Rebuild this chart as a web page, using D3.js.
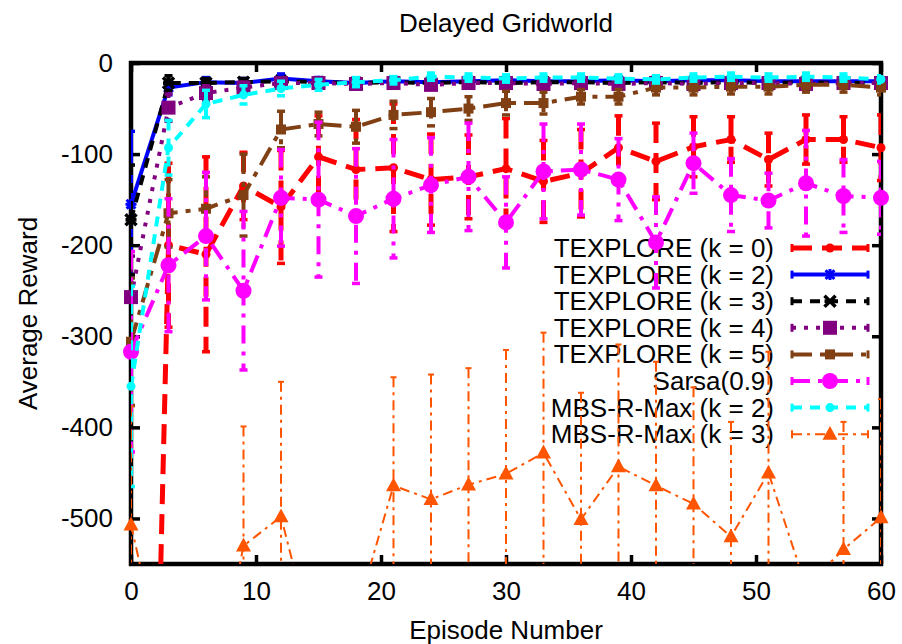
<!DOCTYPE html>
<html>
<head>
<meta charset="utf-8">
<script src="https://cdn.jsdelivr.net/npm/d3@7"></script>
<style>
  body { margin: 0; background: #fff; }
  text { font-family: "Liberation Sans", Arial, Helvetica, sans-serif; }
</style>
</head>
<body>
<svg id="chart" width="902" height="644"></svg>
<script>
// Episodes at which average reward was measured
const episodes = [0, 3, 6, 9, 12, 15, 18, 21, 24, 27, 30, 33, 36, 39, 42, 45, 48, 51, 54, 57, 60];

// Average reward per algorithm, with error-bar half widths
const texplore0    = [-1900, -200, -210, -135, -158, -103, -117, -115, -128, -125, -116, -130, -121, -93, -108, -92, -84, -106, -84, -84, -93];
const texplore0Err = [300, 90, 107, 37, 62, 45, 55, 70, 50, 46, 55, 45, 48, 35, 42, 33, 25, 29, 27, 25, 36];

const texplore2    = [-155, -27, -21, -22, -17, -20, -22, -20, -21, -20, -19, -20, -20, -19, -20, -19, -19, -20, -20, -20, -20];
const texplore2Err = [80, 8, 5, 5, 5, 4, 4, 4, 4, 4, 4, 4, 4, 4, 4, 4, 4, 4, 4, 4, 4];

const texplore3    = [-172, -22, -22, -21, -20, -21, -22, -21, -22, -21, -22, -21, -21, -22, -21, -22, -21, -22, -21, -22, -22];
const texplore3Err = [60, 8, 5, 4, 4, 4, 4, 4, 4, 4, 4, 4, 4, 4, 4, 4, 4, 4, 4, 4, 4];

const texplore4    = [-257, -49, -33, -27, -22, -22, -23, -22, -24, -22, -22, -23, -22, -23, -22, -23, -22, -22, -23, -22, -22];
const texplore4Err = [45, 15, 8, 6, 5, 5, 5, 5, 5, 5, 5, 5, 5, 5, 5, 5, 5, 5, 5, 5, 5];

const texplore5    = [-306, -165, -160, -145, -73, -67, -70, -57, -54, -50, -44, -44, -37, -37, -27, -27, -26, -26, -24, -24, -27];
const texplore5Err = [70, 37, 35, 45, 20, 13, 18, 15, 15, 13, 13, 12, 8, 8, 8, 8, 8, 8, 8, 8, 8];

const sarsa    = [-317, -222, -190, -250, -148, -150, -168, -149, -134, -125, -175, -119, -117, -128, -197, -110, -145, -151, -132, -146, -148];
const sarsaErr = [110, 73, 70, 87, 53, 85, 74, 65, 52, 59, 50, 52, 50, 45, 50, 33, 40, 30, 58, 40, 40];

const mbs2    = [-355, -93, -45, -35, -28, -24, -21, -19, -15, -16, -17, -16, -16, -17, -18, -16, -15, -16, -15, -16, -18];
const mbs2Err = [110, 30, 15, 10, 8, 6, 5, 4, 4, 4, 4, 4, 4, 4, 4, 4, 4, 4, 4, 4, 4];

const mbs3    = [-507, -690, -740, -530, -498, -660, -606, -464, -479, -463, -451, -428, -501, -443, -464, -484, -520, -450, -575, -534, -499];
const mbs3Err = [130, 125, 120, 131, 148, 100, 50, 119, 137, 128, 136, 132, 139, 134, 136, 128, 126, 133, 20, 140, 130];

const seriesNames = ["TEXPLORE (k = 0)", "TEXPLORE (k = 2)", "TEXPLORE (k = 3)", "TEXPLORE (k = 4)",
                     "TEXPLORE (k = 5)", "Sarsa(0.9)", "MBS-R-Max (k = 2)", "MBS-R-Max (k = 3)"];

const xTicks = [0, 10, 20, 30, 40, 50, 60];
const yTicks = [0, -100, -200, -300, -400, -500];

const chartTitle = "Delayed Gridworld";
const xLabel = "Episode Number";
const yLabel = "Average Reward";

// Drawing styles for each series
const styles = [
  { color: "#ff0000", width: 5,   dash: "20,10",       marker: "dot",      size: 4.5, cap: 4 },
  { color: "#0000ff", width: 4,   dash: null,          marker: "star",     size: 5.5, cap: 4 },
  { color: "#000000", width: 4,   dash: "10,8",        marker: "cross",    size: 5.5, cap: 4 },
  { color: "#800080", width: 4,   dash: "4,8",         marker: "square",   size: 7,   cap: 4 },
  { color: "#804014", width: 4,   dash: "20,8,5,8",    marker: "square",   size: 5,   cap: 4 },
  { color: "#ff00ff", width: 4,   dash: "18,8,4,8",    marker: "circle",   size: 8,   cap: 4 },
  { color: "#00ffff", width: 4,   dash: "10,8",        marker: "dot",      size: 4.5, cap: 4 },
  { color: "#ff5500", width: 2,   dash: "10,5,3,5",    marker: "triangle", size: 7.5, cap: 3 }
];

const seriesData = [
  [texplore0, texplore0Err], [texplore2, texplore2Err], [texplore3, texplore3Err],
  [texplore4, texplore4Err], [texplore5, texplore5Err], [sarsa, sarsaErr],
  [mbs2, mbs2Err], [mbs3, mbs3Err]
];

const svg = d3.select("#chart");
const FONT = 26;
const plainNumber = d => String(d);   // ASCII hyphen for negatives

const x = d3.scaleLinear().domain([0, 60]).range([131, 881]);
const y = d3.scaleLinear().domain([-550, 0]).range([564, 63]);

svg.append("rect").attr("width", 902).attr("height", 644).attr("fill", "#fff");

svg.append("defs").append("clipPath").attr("id", "plotClip")
  .append("rect")
  .attr("x", x(0)).attr("y", y(0))
  .attr("width", x(60) - x(0)).attr("height", y(-550) - y(0));

// Axes with inward ticks on all four sides
function styleAxis(g) {
  g.select(".domain").remove();
  g.selectAll(".tick line").attr("stroke", "#000").attr("stroke-width", 3.5);
  g.selectAll(".tick text").attr("fill", "#000").attr("font-size", FONT)
    .attr("font-family", "'Liberation Sans', Arial, sans-serif");
}
const TICK = 9;
svg.append("g").attr("transform", `translate(0,${y(-550)})`)
  .call(d3.axisBottom(x).tickValues(xTicks).tickSizeInner(-TICK).tickSizeOuter(0).tickPadding(18).tickFormat(plainNumber))
  .call(styleAxis);
svg.append("g").attr("transform", `translate(${x(0)},0)`)
  .call(d3.axisLeft(y).tickValues(yTicks).tickSizeInner(-TICK).tickSizeOuter(0).tickPadding(18).tickFormat(plainNumber))
  .call(styleAxis);
svg.append("g").attr("transform", `translate(0,${y(0)})`)
  .call(d3.axisTop(x).tickValues(xTicks).tickSizeInner(-TICK).tickSizeOuter(0).tickFormat(""))
  .call(styleAxis);
svg.append("g").attr("transform", `translate(${x(60)},0)`)
  .call(d3.axisRight(y).tickValues(yTicks).tickSizeInner(-TICK).tickSizeOuter(0).tickFormat(""))
  .call(styleAxis);

// Plot border
svg.append("rect")
  .attr("x", x(0)).attr("y", y(0))
  .attr("width", x(60) - x(0)).attr("height", y(-550) - y(0))
  .attr("fill", "none").attr("stroke", "#000").attr("stroke-width", 4.5);

// Titles
svg.append("text").attr("x", (x(0) + x(60)) / 2).attr("y", 32)
  .attr("text-anchor", "middle").attr("font-size", FONT).text(chartTitle);
svg.append("text").attr("x", (x(0) + x(60)) / 2).attr("y", 639)
  .attr("text-anchor", "middle").attr("font-size", FONT).text(xLabel);
svg.append("text")
  .attr("transform", `translate(37,${(y(0) + y(-550)) / 2}) rotate(-90)`)
  .attr("text-anchor", "middle").attr("font-size", FONT).text(yLabel);

function drawMarker(g, cx, cy, st) {
  const s = st.size;
  if (st.marker === "dot" || st.marker === "circle") {
    g.append("circle").attr("cx", cx).attr("cy", cy).attr("r", s).attr("fill", st.color);
  } else if (st.marker === "square") {
    g.append("rect").attr("x", cx - s).attr("y", cy - s).attr("width", 2 * s).attr("height", 2 * s).attr("fill", st.color);
  } else if (st.marker === "triangle") {
    const p = d3.path();
    p.moveTo(cx, cy - s * 1.1); p.lineTo(cx + s, cy + s * 0.75); p.lineTo(cx - s, cy + s * 0.75); p.closePath();
    g.append("path").attr("d", p.toString()).attr("fill", st.color);
  } else if (st.marker === "star") {
    const d = s * 0.8;
    g.append("path")
      .attr("d", `M${cx - s},${cy}H${cx + s}M${cx},${cy - s}V${cy + s}M${cx - d},${cy - d}L${cx + d},${cy + d}M${cx - d},${cy + d}L${cx + d},${cy - d}`)
      .attr("stroke", st.color).attr("stroke-width", 3).attr("fill", "none");
  } else if (st.marker === "cross") {
    g.append("path")
      .attr("d", `M${cx - s},${cy - s}L${cx + s},${cy + s}M${cx - s},${cy + s}L${cx + s},${cy - s}M${cx - s},${cy}H${cx + s}`)
      .attr("stroke", st.color).attr("stroke-width", 3.5).attr("fill", "none");
  }
}

// Legend row geometry
const legendTextRight = 774;
const legendLineX0 = 792, legendLineX1 = 868;
const legendRow0 = 248, legendStep = 26.6;

seriesData.forEach(([vals, errs], si) => {
  const st = styles[si];

  // key entry
  const ly = legendRow0 + si * legendStep;
  const kg = svg.append("g");
  kg.append("text").attr("x", legendTextRight).attr("y", ly + 9)
    .attr("text-anchor", "end").attr("font-size", FONT).attr("fill", "#000").text(seriesNames[si]);
  kg.append("line").attr("x1", legendLineX0).attr("x2", legendLineX1).attr("y1", ly).attr("y2", ly)
    .attr("stroke", st.color).attr("stroke-width", st.width).attr("stroke-dasharray", st.dash);
  [legendLineX0, legendLineX1].forEach(ex => {
    kg.append("line").attr("x1", ex).attr("x2", ex).attr("y1", ly - 4).attr("y2", ly + 4)
      .attr("stroke", st.color).attr("stroke-width", Math.min(st.width, 3));
  });
  drawMarker(kg, (legendLineX0 + legendLineX1) / 2, ly, st);

  // data: line and error bars clipped to the plot area
  const pts = episodes.map((e, i) => ({ e, v: vals[i], err: errs[i] }));
  const cg = svg.append("g").attr("clip-path", "url(#plotClip)");
  pts.forEach(p => {
    const yTop = y(p.v + p.err), yBot = y(p.v - p.err), cx = x(p.e);
    cg.append("line").attr("x1", cx).attr("x2", cx).attr("y1", yTop).attr("y2", yBot)
      .attr("stroke", st.color).attr("stroke-width", st.width).attr("stroke-dasharray", st.dash);
    [yTop, yBot].forEach(yy => {
      cg.append("line").attr("x1", cx - st.cap).attr("x2", cx + st.cap).attr("y1", yy).attr("y2", yy)
        .attr("stroke", st.color).attr("stroke-width", Math.min(st.width, 3.5));
    });
  });
  const line = d3.line().x(p => x(p.e)).y(p => y(p.v));
  cg.append("path").datum(pts).attr("d", line)
    .attr("fill", "none").attr("stroke", st.color).attr("stroke-width", st.width)
    .attr("stroke-dasharray", st.dash).attr("stroke-linejoin", "miter");

  // markers only for points inside the value range
  const mg = svg.append("g");
  pts.filter(p => p.v >= -550 && p.v <= 0).forEach(p => drawMarker(mg, x(p.e), y(p.v), st));
});
</script>
</body>
</html>
